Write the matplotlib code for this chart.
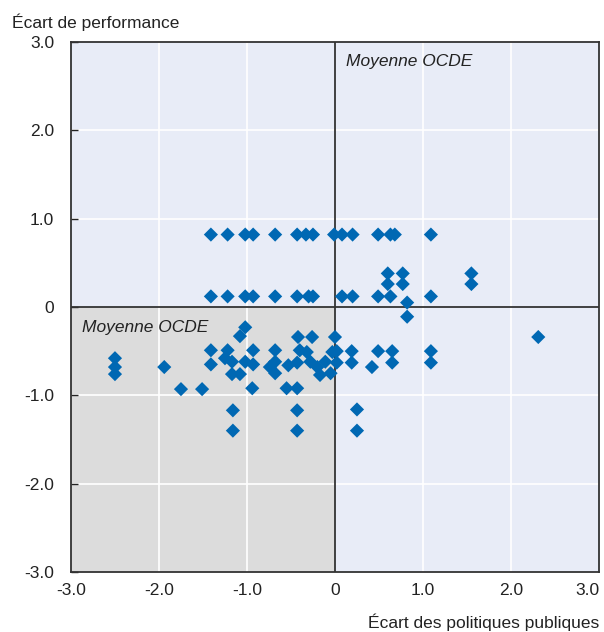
import matplotlib
matplotlib.use("Agg")
import matplotlib.pyplot as plt
from matplotlib.patches import Rectangle

# ---- data ----
row_hi_y = 0.82
row_hi_x = [-1.41, -1.22, -1.02, -0.93, -0.68, -0.43, -0.33, -0.25, -0.01, 0.08, 0.20, 0.49, 0.63, 0.68, 1.09]
row_lo_y = 0.12
row_lo_x = [-1.41, -1.22, -1.02, -0.93, -0.68, -0.43, -0.30, -0.25, 0.08, 0.20, 0.49, 0.63, 1.09]

upper_right_x = [0.60, 0.77, 0.60, 0.77, 0.82, 0.82, 1.55, 1.55]
upper_right_y = [0.38, 0.38, 0.26, 0.26, 0.05, -0.11, 0.38, 0.26]

lower_right_x = [2.31, 0.00, 0.02, 0.19, 0.02, 0.19, 0.49, 0.65, 0.42, 0.65, 1.09, 1.09, 0.25, 0.25]
lower_right_y = [-0.34, -0.34, -0.50, -0.50, -0.63, -0.63, -0.50, -0.50, -0.68, -0.63, -0.50, -0.63, -1.16, -1.40]

lower_left_x = [-2.50, -2.50, -2.50, -1.94, -1.75, -1.51, -1.41, -1.41, -1.16, -1.16,
                -0.94, -0.55, -0.43, -0.43, -0.43, -1.02, -1.08, -1.22, -0.93, -1.17,
                -1.02, -0.93, -1.17, -1.08, -1.25, -0.42, -0.26, -0.68, -0.40, -0.32,
                -0.74, -0.53, -0.43, -0.28, -0.11, -0.17, -0.03, -0.68, -0.05, -0.68, -0.20]
lower_left_y = [-0.58, -0.68, -0.76, -0.68, -0.93, -0.93, -0.49, -0.65, -1.17, -1.40,
                -0.92, -0.92, -0.92, -1.17, -1.40, -0.23, -0.33, -0.49, -0.49, -0.62,
                -0.62, -0.65, -0.76, -0.76, -0.58, -0.34, -0.34, -0.49, -0.49, -0.51,
                -0.68, -0.66, -0.63, -0.62, -0.62, -0.77, -0.51, -0.62, -0.75, -0.75, -0.68]

ticks = [-3.0, -2.0, -1.0, 0.0, 1.0, 2.0, 3.0]
tick_labels = ["-3.0", "-2.0", "-1.0", "0", "1.0", "2.0", "3.0"]

xs = row_hi_x + row_lo_x + upper_right_x + lower_right_x + lower_left_x
ys = ([row_hi_y] * len(row_hi_x) + [row_lo_y] * len(row_lo_x)
      + upper_right_y + lower_right_y + lower_left_y)

plt.rcParams["font.family"] = ["Liberation Sans", "DejaVu Sans"]

fig = plt.figure(figsize=(6.04, 6.32), dpi=100)
ax = fig.add_axes([0.1175, 0.095, 0.8742, 0.8385])
ax.set_xlim(-3, 3)
ax.set_ylim(-3, 3)

blue_bg = "#E8ECF7"
grey_bg = "#DCDCDC"
ax.set_facecolor(blue_bg)
ax.add_patch(Rectangle((-3, -3), 3, 3, facecolor=grey_bg, edgecolor="none", zorder=0))

for v in [-2, -1, 1, 2]:
    ax.axvline(v, color="white", lw=1.2, zorder=1)
    ax.axhline(v, color="white", lw=1.2, zorder=1)
ax.axvline(0, color="#333333", lw=1.3, zorder=2)
ax.axhline(0, color="#333333", lw=1.3, zorder=2)

ax.scatter(xs, ys, marker="D", s=52, color="#0068B3", edgecolors="none", zorder=3)

ax.set_xticks(ticks)
ax.set_xticklabels(tick_labels)
ax.set_yticks(ticks)
ax.set_yticklabels(tick_labels)
ax.tick_params(axis="x", length=0, pad=8, labelsize=12.5, colors="#222222")
ax.tick_params(axis="y", direction="in", length=5, width=1, pad=12, labelsize=12.5,
               colors="#222222")
ax.get_xticklabels()[-1].set_horizontalalignment("right")

for s in ax.spines.values():
    s.set_color("#333333")
    s.set_linewidth(1.3)

ax.text(0.12, 2.78, "Moyenne OCDE", style="italic", fontsize=12.5, color="#222222",
        ha="left", va="center", zorder=4)
ax.text(-2.88, -0.23, "Moyenne OCDE", style="italic", fontsize=12.5, color="#222222",
        ha="left", va="center", zorder=4)

fig.text(12 / 604, 1 - 22 / 632, "Écart de performance", fontsize=12.5, color="#222222",
         ha="left", va="center")
fig.text(599 / 604, 1 - 622 / 632, "Écart des politiques publiques", fontsize=12.5,
         color="#222222", ha="right", va="center")

fig.savefig("out.png", dpi=100)
